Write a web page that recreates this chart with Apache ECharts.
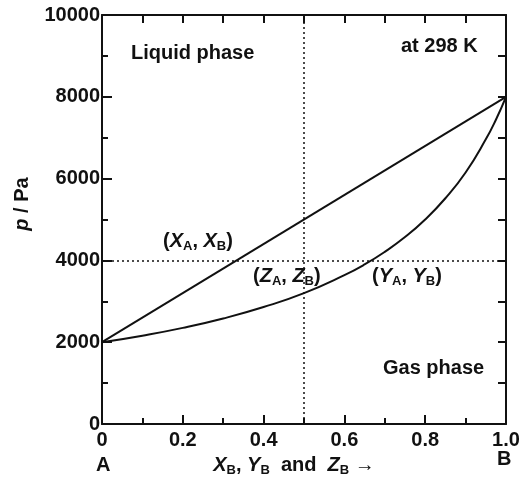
<!DOCTYPE html>
<html>
<head>
<meta charset="utf-8">
<script src="https://cdn.jsdelivr.net/npm/echarts@6/dist/echarts.min.js"></script>
<style>
  html, body { margin: 0; padding: 0; background: #fff; }
  #chart { width: 527px; height: 485px; }
</style>
</head>
<body>
<div id="chart"></div>
<script>
// liquid line (bubble curve), straight from pA to pB
const liquidX = [0, 1]
const liquidP = [2000, 8000]
// vapour curve (dew curve)
const vapourX = [0, 0.1, 0.2, 0.3, 0.4, 0.5, 0.6, 0.65, 0.7, 0.75, 0.8, 0.85, 0.9, 0.95, 0.975, 1]
const vapourP = [2000, 2160, 2350, 2580, 2860, 3200, 3640, 3900, 4210, 4570, 5000, 5520, 6150, 6960, 7440, 8000]
// dotted guide lines
const guideX = 0.5
const guideP = 4000

const font = 'Liberation Sans, Arial, sans-serif'
const rich = {
  i: { fontFamily: font, fontWeight: 'bold', fontStyle: 'italic', fontSize: 20, color: '#111' },
  t: { fontFamily: font, fontWeight: 'bold', fontSize: 20, color: '#111' },
  s: { fontFamily: font, fontWeight: 'bold', fontSize: 13, color: '#111', padding: [10, 0, 0, 0] }
}

let myChart = echarts.init(document.getElementById('chart'))

function txt(left, top, text) {
  return {
    type: 'text',
    left: left,
    top: top,
    style: { text: text, rich: rich, font: 'bold 20px ' + font, fill: '#111' }
  }
}

let axisLine = { show: true, onZero: false, lineStyle: { color: '#111', width: 2 } }

let option = {
  animation: false,
  backgroundColor: '#fff',
  grid: { left: 102, right: 21, top: 15, bottom: 61 },
  xAxis: [
    {
      type: 'value',
      min: 0,
      max: 1,
      interval: 0.2,
      position: 'bottom',
      axisLine: axisLine,
      axisTick: { inside: true, length: 9, lineStyle: { color: '#111', width: 2 } },
      minorTick: { show: true, splitNumber: 2, length: 6, lineStyle: { color: '#111', width: 2 } },
      splitLine: { show: false },
      axisLabel: {
        margin: 6,
        fontFamily: font, fontWeight: 'bold', fontSize: 20, color: '#111',
        formatter: v => (v === 0 ? '0' : v.toFixed(1))
      },
      name: '{i|X}{s|B}{t|, }{i|Y}{s|B}{t|  and  }{i|Z}{s|B}{t| \u2192}',
      nameLocation: 'middle',
      nameGap: 30,
      nameTextStyle: { rich: rich, padding: [0, 20, 0, 0] }
    },
    {
      type: 'value',
      min: 0,
      max: 1,
      interval: 0.1,
      position: 'top',
      axisLine: axisLine,
      axisTick: { inside: true, length: 8, lineStyle: { color: '#111', width: 2 } },
      axisLabel: { show: false },
      splitLine: { show: false }
    }
  ],
  yAxis: [
    {
      type: 'value',
      min: 0,
      max: 10000,
      interval: 2000,
      position: 'left',
      axisLine: axisLine,
      axisTick: { inside: true, length: 10, lineStyle: { color: '#111', width: 2 } },
      minorTick: { show: true, splitNumber: 2, length: 6, lineStyle: { color: '#111', width: 2 } },
      splitLine: { show: false },
      axisLabel: {
        margin: 2,
        fontFamily: font, fontWeight: 'bold', fontSize: 20, color: '#111',
        formatter: v => String(v)
      }
    },
    {
      type: 'value',
      min: 0,
      max: 10000,
      interval: 1000,
      position: 'right',
      axisLine: axisLine,
      axisTick: { inside: true, length: 8, lineStyle: { color: '#111', width: 2 } },
      axisLabel: { show: false },
      splitLine: { show: false }
    }
  ],
  series: [
    {
      name: 'liquid',
      type: 'line',
      data: liquidX.map((x, i) => [x, liquidP[i]]),
      symbol: 'none',
      lineStyle: { color: '#111', width: 2 },
      markLine: {
        silent: true,
        symbol: 'none',
        label: { show: false },
        lineStyle: { color: '#111', width: 1.5, type: [2, 3] },
        data: [{ xAxis: guideX }, { yAxis: guideP }]
      }
    },
    {
      name: 'vapour',
      type: 'line',
      data: vapourX.map((x, i) => [x, vapourP[i]]),
      symbol: 'none',
      smooth: 0.5,
      lineStyle: { color: '#111', width: 2 }
    }
  ],
  graphic: [
    txt(131, 43, 'Liquid phase'),
    txt(401, 36, 'at 298 K'),
    txt(383, 358, 'Gas phase'),
    txt(163, 231, '{t|(}{i|X}{s|A}{t|, }{i|X}{s|B}{t|)}'),
    txt(253, 266, '{t|(}{i|Z}{s|A}{t|, }{i|Z}{s|B}{t|)}'),
    txt(372, 266, '{t|(}{i|Y}{s|A}{t|, }{i|Y}{s|B}{t|)}'),
    txt(96, 455, 'A'),
    txt(497, 449, 'B'),
    {
      // y axis title, rotated
      type: 'text',
      x: 22,
      y: 204,
      rotation: Math.PI / 2,
      style: {
        text: '{i|p}{t| / Pa}',
        rich: rich,
        align: 'center',
        verticalAlign: 'middle',
        fill: '#111'
      }
    }
  ]
}

myChart.setOption(option)
</script>
</body>
</html>
